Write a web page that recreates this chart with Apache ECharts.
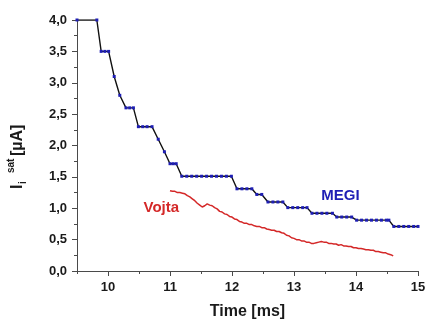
<!DOCTYPE html>
<html>
<head>
<meta charset="utf-8">
<script src="https://cdn.jsdelivr.net/npm/echarts@6/dist/echarts.min.js"></script>
<style>
  html, body { margin: 0; padding: 0; background: #fff; }
  #chart { width: 427px; height: 320px; }
</style>
</head>
<body>
<div id="chart"></div>
<script>
// MEGI probe: sampled saturation current (time in ms, current in µA)
const megiTime = [9.50, 9.82, 9.89, 9.95, 10.01, 10.10, 10.19, 10.29, 10.35, 10.41,
  10.49, 10.56, 10.63, 10.71, 10.81, 10.91, 11.00, 11.05, 11.10, 11.19,
  11.27, 11.35, 11.43, 11.51, 11.59, 11.67, 11.75, 11.83, 11.91, 11.99,
  12.08, 12.16, 12.24, 12.32, 12.40, 12.48, 12.58, 12.66, 12.74, 12.82,
  12.90, 12.98, 13.06, 13.14, 13.21, 13.29, 13.37, 13.45, 13.53, 13.62,
  13.69, 13.77, 13.85, 13.93, 14.01, 14.09, 14.17, 14.25, 14.33, 14.41,
  14.49, 14.53, 14.61, 14.69, 14.77, 14.85, 14.93, 15.00];
const megiCurrent = [4.00, 4.00, 3.50, 3.50, 3.50, 3.10, 2.80, 2.60, 2.60, 2.60,
  2.30, 2.30, 2.30, 2.30, 2.10, 1.90, 1.71, 1.71, 1.71, 1.51,
  1.51, 1.51, 1.51, 1.51, 1.51, 1.51, 1.51, 1.51, 1.51, 1.51,
  1.31, 1.31, 1.31, 1.31, 1.22, 1.22, 1.10, 1.10, 1.10, 1.10,
  1.01, 1.01, 1.01, 1.01, 1.01, 0.92, 0.92, 0.92, 0.92, 0.92,
  0.86, 0.86, 0.86, 0.86, 0.81, 0.81, 0.81, 0.81, 0.81, 0.81,
  0.81, 0.81, 0.71, 0.71, 0.71, 0.71, 0.71, 0.71];

// Vojta probe: continuous trace
const vojtaTime = [11.00, 11.04, 11.08, 11.12, 11.16, 11.20, 11.24, 11.28, 11.32, 11.36,
  11.40, 11.44, 11.48, 11.52, 11.56, 11.60, 11.64, 11.68, 11.72, 11.76,
  11.80, 11.84, 11.88, 11.92, 11.96, 12.00, 12.04, 12.08, 12.12, 12.16,
  12.20, 12.24, 12.28, 12.32, 12.36, 12.40, 12.44, 12.48, 12.52, 12.56,
  12.60, 12.64, 12.68, 12.72, 12.76, 12.80, 12.84, 12.88, 12.92, 12.96,
  13.00, 13.04, 13.08, 13.12, 13.16, 13.20, 13.24, 13.28, 13.32, 13.36,
  13.40, 13.44, 13.48, 13.52, 13.56, 13.60, 13.64, 13.68, 13.72, 13.76,
  13.80, 13.84, 13.88, 13.92, 13.96, 14.00, 14.04, 14.08, 14.12, 14.16,
  14.20, 14.24, 14.28, 14.32, 14.36, 14.40, 14.44, 14.48, 14.52, 14.56, 14.60];
const vojtaCurrent = [1.28, 1.27, 1.27, 1.25, 1.25, 1.24, 1.23, 1.20, 1.18, 1.15,
  1.12, 1.08, 1.05, 1.02, 1.04, 1.07, 1.05, 1.04, 1.01, 0.99,
  0.95, 0.94, 0.91, 0.90, 0.87, 0.86, 0.83, 0.82, 0.79, 0.78,
  0.76, 0.76, 0.74, 0.74, 0.72, 0.71, 0.71, 0.69, 0.69, 0.67,
  0.66, 0.65, 0.65, 0.63, 0.63, 0.61, 0.60, 0.57, 0.56, 0.53,
  0.52, 0.50, 0.50, 0.48, 0.48, 0.46, 0.46, 0.44, 0.44, 0.45,
  0.46, 0.47, 0.46, 0.46, 0.44, 0.44, 0.43, 0.43, 0.41, 0.42,
  0.40, 0.40, 0.39, 0.39, 0.37, 0.37, 0.36, 0.36, 0.35, 0.34,
  0.34, 0.33, 0.33, 0.31, 0.31, 0.30, 0.29, 0.29, 0.27, 0.26, 0.24];

const xMajorTicks = [10, 11, 12, 13, 14, 15];
const xMinorTicks = [9.5, 10.5, 11.5, 12.5, 13.5, 14.5];

// Series name labels, anchored in data coordinates
const seriesLabels = [
  { text: 'MEGI', t: 13.75, v: 1.20, color: '#1e1eb4' },
  { text: 'Vojta', t: 10.86, v: 1.00, color: '#d42828' }
];

const FONT = '"Liberation Sans", Arial, sans-serif';
const AXIS_COLOR = '#4a4a4a';
const TEXT_COLOR = '#1a1a1a';

const zip = (xs, ys) => xs.map((x, i) => [x, ys[i]]);

const chart = echarts.init(document.getElementById('chart'), null, { renderer: 'canvas' });

chart.setOption({
  animation: false,
  backgroundColor: '#fff',
  grid: { left: 77, right: 9, top: 20, bottom: 49, containLabel: false, outerBoundsMode: 'none' },
  xAxis: [{
    type: 'value', min: 9.5, max: 15, interval: 0.5,
    axisLine: { show: true, lineStyle: { color: AXIS_COLOR, width: 1 } },
    axisTick: { show: true, customValues: xMajorTicks, length: 5, lineStyle: { color: AXIS_COLOR } },
    axisLabel: {
      customValues: xMajorTicks, margin: 10,
      fontFamily: FONT, fontWeight: 'bold', fontSize: 13, color: TEXT_COLOR,
      formatter: v => String(v)
    },
    splitLine: { show: false },
    name: 'Time [ms]', nameLocation: 'middle', nameGap: 33,
    nameTextStyle: { fontFamily: FONT, fontWeight: 'bold', fontSize: 16, color: TEXT_COLOR }
  }, {
    type: 'value', min: 9.5, max: 15, position: 'bottom', gridIndex: 0,
    axisLine: { show: false },
    axisTick: { show: true, customValues: xMinorTicks, length: 3, lineStyle: { color: AXIS_COLOR } },
    axisLabel: { show: false },
    splitLine: { show: false }
  }],
  yAxis: {
    type: 'value', min: 0, max: 4, interval: 0.5,
    axisLine: { show: true, lineStyle: { color: AXIS_COLOR, width: 1 } },
    axisTick: { show: true, length: 5, lineStyle: { color: AXIS_COLOR } },
    minorTick: { show: true, splitNumber: 2, length: 3, lineStyle: { color: AXIS_COLOR } },
    axisLabel: {
      margin: 10,
      fontFamily: FONT, fontWeight: 'bold', fontSize: 13, color: TEXT_COLOR,
      formatter: v => v.toFixed(1).replace('.', ',')
    },
    splitLine: { show: false }
  },
  series: [{
    name: 'MEGI', type: 'line', xAxisIndex: 0,
    data: zip(megiTime, megiCurrent),
    showSymbol: true, symbol: 'rect', symbolSize: [3, 3],
    itemStyle: { color: '#1e1eb4' },
    lineStyle: { color: '#111', width: 1.4 },
    z: 3
  }, {
    name: 'Vojta', type: 'line', xAxisIndex: 0,
    data: zip(vojtaTime, vojtaCurrent),
    showSymbol: false,
    lineStyle: { color: '#d42828', width: 1.5 },
    z: 2
  }]
});

// Y-axis title: I with subscript "i" and superscript "sat", reading bottom to top
const yTitle = {
  type: 'group', x: 18, y: 189, rotation: Math.PI / 2,
  children: [
    { type: 'text', x: 0, y: 0, style: { text: 'I', font: 'bold 16px ' + FONT, fill: TEXT_COLOR, verticalAlign: 'middle', align: 'left' } },
    { type: 'text', x: 5, y: 5, style: { text: 'i', font: 'bold 10px ' + FONT, fill: TEXT_COLOR, verticalAlign: 'middle', align: 'left' } },
    { type: 'text', x: 16, y: -7, style: { text: 'sat', font: 'bold 10px ' + FONT, fill: TEXT_COLOR, verticalAlign: 'middle', align: 'left' } },
    { type: 'text', x: 33, y: 0, style: { text: '[µA]', font: 'bold 16px ' + FONT, fill: TEXT_COLOR, verticalAlign: 'middle', align: 'left' } }
  ]
};

const labelGraphics = seriesLabels.map(l => {
  const p = chart.convertToPixel({ xAxisIndex: 0, yAxisIndex: 0 }, [l.t, l.v]);
  return {
    type: 'text', x: p[0], y: p[1],
    style: { text: l.text, font: 'bold 15px ' + FONT, fill: l.color, align: 'center', verticalAlign: 'middle' }
  };
});

chart.setOption({ graphic: [yTitle].concat(labelGraphics) });
</script>
</body>
</html>
